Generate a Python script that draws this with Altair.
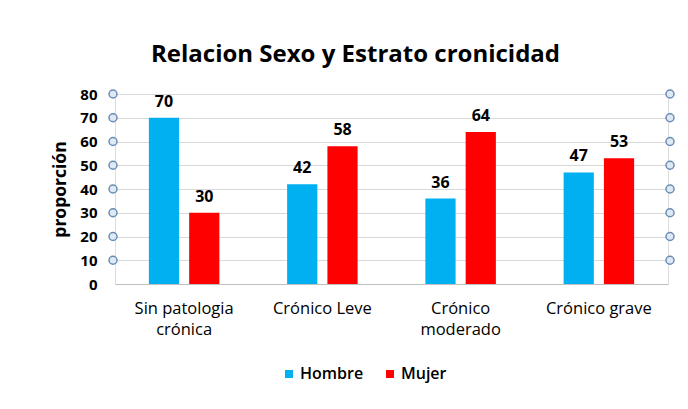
import altair as alt
import pandas as pd

categories = ["Sin patologia crónica", "Crónico Leve", "Crónico moderado", "Crónico grave"]
hombre = [70, 42, 36, 47]
mujer = [30, 58, 64, 53]
series = ["Hombre", "Mujer"]
colors = ["#00B0F0", "#FF0000"]
tick_values = [0, 10, 20, 30, 40, 50, 60, 70, 80]
handle_values = [10, 20, 30, 40, 50, 60, 70, 80]

rows = []
for c, h, m in zip(categories, hombre, mujer):
    rows.append({"cat": c, "sexo": "Hombre", "val": h})
    rows.append({"cat": c, "sexo": "Mujer", "val": m})
df = pd.DataFrame(rows)
handles = pd.DataFrame({"val": handle_values})

FONT = "Open Sans"

label_expr = ("datum.value == 'Sin patologia crónica' ? ['Sin patologia', 'crónica'] : "
              "datum.value == 'Crónico moderado' ? ['Crónico', 'moderado'] : datum.value")

x = alt.X("cat:N", sort=categories, title=None,
          scale=alt.Scale(paddingInner=0.49, paddingOuter=0.245),
          axis=alt.Axis(labelAngle=0, labelExpr=label_expr, labelFontSize=16.5,
                        labelFont=FONT, labelColor="#000000", labelPadding=16,
                        labelLineHeight=21, ticks=False, domainColor="#BFBFBF",
                        labelBaseline="top", labelFontWeight=500))
y = alt.Y("val:Q", title="proporción",
          scale=alt.Scale(domain=[0, 80], nice=False),
          axis=alt.Axis(values=tick_values, ticks=False, domain=False, labelOverlap=False,
                        labelFontSize=15, labelFontWeight="bold", labelFont=FONT,
                        labelColor="#000000", labelPadding=18, gridColor="#D9D9D9",
                        titleFontSize=17.5, titleFont=FONT, titleFontWeight="bold",
                        titleColor="#000000", titlePadding=10))

color = alt.Color("sexo:N", scale=alt.Scale(domain=series, range=colors),
                  legend=alt.Legend(title=None, orient="none", legendX=166, legendY=272,
                                    direction="horizontal", symbolType="square",
                                    symbolSize=64, symbolStrokeWidth=0,
                                    labelFontSize=16, labelFont=FONT, labelFontWeight=600,
                                    labelColor="#000000", columnPadding=18, labelOffset=3))

xoff = alt.XOffset("sexo:N", sort=series, scale=alt.Scale(paddingInner=0.25, paddingOuter=0))

bars = alt.Chart(df).mark_bar().encode(x=x, y=y, color=color, xOffset=xoff)
labels = alt.Chart(df).mark_text(baseline="bottom", dy=-8, fontSize=16, fontWeight="bold",
                                 font=FONT, color="#000000").encode(
    x=x, y=y, xOffset=xoff, text=alt.Text("val:Q"))

handle_style = dict(shape="circle", size=64, filled=True, fill="#DFE9F3",
                    stroke="#6A8DB4", strokeWidth=1.5, opacity=1)
left_h = alt.Chart(handles).mark_point(**handle_style).encode(x=alt.value(-2), y=y)
right_h = alt.Chart(handles).mark_point(**handle_style).encode(x=alt.value(555), y=y)

chart = alt.layer(bars, labels, left_h, right_h).properties(
    width=553, height=190,
    title=alt.Title("Relacion Sexo y Estrato cronicidad", fontSize=24, font=FONT,
                    fontWeight="bold", color="#000000", dx=-36, offset=20),
    autosize=alt.AutoSizeParams(type="none"),
    padding={"left": 107, "top": 86, "right": 12, "bottom": 117},
).configure_view(stroke=None).configure_axisY(labelOverlap=False).configure(background="#FFFFFF")

chart.save("out.html", embed_options={"renderer": "svg", "actions": False})
